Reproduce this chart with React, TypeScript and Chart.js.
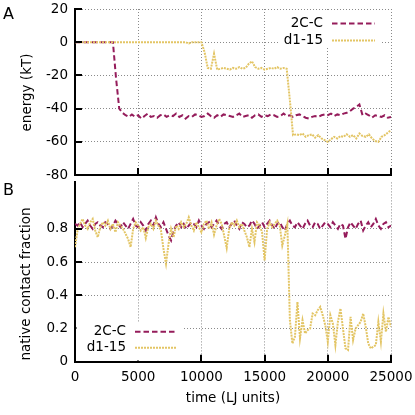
import React, { useEffect, useRef } from "react";
import { Chart, registerables } from "chart.js";

Chart.register(...registerables);

const FONT_FAMILY = "DejaVu Sans";
const MAROON = "#951c5b";
const GOLD = "#e3c565";

const SERIES_NAMES = ["2C-C", "d1-15"];
const X_TITLE = "time (LJ units)";
const Y_TITLE_A = "energy (kT)";
const Y_TITLE_B = "native contact fraction";

const TIME_STEP_A = 250;
const TIME_STEP_B = 200;
const TIME_MAX = 25000;
const TIME_TICK_STEP = 5000;
const ENERGY_MIN = -80;
const ENERGY_MAX = 20;
const ENERGY_TICK_STEP = 20;
const FRACTION_MIN = 0;
const FRACTION_MAX = 1.08;
const FRACTION_TICK_STEP = 0.2;

// Panel A: energy (kT), sampled every 250 LJ time units (0..25000)
const energy2CC = [
  0, 0, 0, 0, 0, 0, 0, 0, 0, 0, 0, 0, 0,
  -22, -40, -42.5, -44, -45, -43.5, -45, -44, -46, -44.5,
  -43, -45, -44.5, -45.5, -44, -43.5, -45, -44, -44.5, -43,
  -45, -44, -46, -44.5, -45, -43.5, -44, -45, -44.5, -43,
  -44.5, -45.5, -44, -45, -43.5, -44, -44.5, -45, -44, -43,
  -45, -44.5, -44, -45.5, -44, -43.5, -45, -44, -44.5, -43.5,
  -44, -45, -44.5, -43, -44.5, -44, -45, -44, -43.5, -44.5,
  -45.5, -46, -45, -44.5, -45, -44, -43.5, -44, -43, -44.5,
  -43.5, -44, -43, -42.5, -41.5, -40, -39, -37.5, -44, -43,
  -44, -45.5, -44, -44.5, -45, -44, -45.5, -45,
];

const energyD115 = [
  0, 0, 0, 0, 0, 0, 0, 0, 0, 0, 0, 0, 0, 0, 0, 0, 0, 0,
  0, 0, 0, 0, 0, 0, 0, 0, 0, 0, 0, 0, 0, 0, 0, 0, 0, 0,
  -0.8, 0, 0, 0, 0,
  -6, -15.5, -16, -7, -16.5, -16,
  -15.5, -16, -16.5, -15.5, -16, -15, -16, -15.5,
  -13, -11.5, -15,
  -16, -15.5, -16.5, -16, -15.5, -16, -15, -16, -15.5, -16,
  -35, -56,
  -55.5, -56, -55, -57, -56, -55.5, -57.5, -56, -58, -59,
  -60, -58.5, -57, -58, -56.5, -57, -55.5, -57, -56, -58,
  -55, -56.5, -57, -55.5, -58, -59.5, -60, -57, -56, -54.5, -53,
];

// Panel B: native contact fraction, sampled every 200 LJ time units (0..25000)
const fraction2CC = [
  0.83, 0.82, 0.84, 0.81, 0.83, 0.85, 0.82, 0.80, 0.83, 0.84,
  0.82, 0.81, 0.84, 0.83, 0.80, 0.82, 0.85, 0.83, 0.81, 0.84,
  0.82, 0.80, 0.83, 0.86, 0.82, 0.81, 0.84, 0.82, 0.79, 0.83,
  0.85, 0.82, 0.87, 0.83, 0.81, 0.84, 0.80, 0.76, 0.73, 0.79,
  0.82, 0.84, 0.81, 0.83, 0.80, 0.82, 0.84, 0.83, 0.81, 0.85,
  0.82, 0.80, 0.83, 0.84, 0.81, 0.83, 0.85, 0.82, 0.80, 0.83,
  0.84, 0.81, 0.83, 0.85, 0.82, 0.80, 0.84, 0.83, 0.81, 0.82,
  0.85, 0.83, 0.80, 0.82, 0.84, 0.81, 0.83, 0.85, 0.82, 0.80,
  0.83, 0.84, 0.81, 0.79, 0.83, 0.85, 0.82, 0.81, 0.84, 0.82,
  0.80, 0.83, 0.85, 0.82, 0.81, 0.84, 0.83, 0.80, 0.82, 0.84,
  0.83, 0.81, 0.84, 0.82, 0.80, 0.83, 0.82, 0.74, 0.81, 0.84,
  0.82, 0.80, 0.83, 0.85, 0.79, 0.82, 0.84, 0.81, 0.83, 0.86,
  0.82, 0.80, 0.83, 0.84, 0.81, 0.82,
];

const fractionD115 = [
  0.69, 0.79, 0.83, 0.86, 0.82, 0.80, 0.84, 0.86, 0.79, 0.75,
  0.81, 0.84, 0.82, 0.85, 0.80, 0.83, 0.78, 0.84, 0.82, 0.80,
  0.77, 0.74, 0.69, 0.80, 0.84, 0.82, 0.79, 0.81, 0.745, 0.81,
  0.83, 0.80, 0.85, 0.82, 0.79, 0.68, 0.59, 0.71, 0.80, 0.75,
  0.82, 0.80, 0.84, 0.81, 0.83, 0.87, 0.82, 0.79, 0.84, 0.81,
  0.78, 0.83, 0.85, 0.80, 0.84, 0.765, 0.82, 0.86, 0.83, 0.76,
  0.685, 0.80, 0.84, 0.82, 0.85, 0.81, 0.83, 0.79, 0.75, 0.69,
  0.80, 0.72, 0.84, 0.82, 0.78, 0.61, 0.80, 0.84, 0.81, 0.83,
  0.85, 0.82, 0.70, 0.76, 0.83, 0.25, 0.11, 0.15, 0.36, 0.14,
  0.25, 0.17, 0.19, 0.20, 0.29, 0.28, 0.31, 0.33, 0.28, 0.22,
  0.12, 0.28, 0.23, 0.10, 0.24, 0.32, 0.20, 0.08, 0.07, 0.27,
  0.13, 0.20, 0.22, 0.24, 0.29, 0.21, 0.11, 0.08, 0.09, 0.10,
  0.24, 0.12, 0.29, 0.18, 0.27, 0.21,
];

const toPoints = (values: number[], step: number) =>
  values.map((v, i) => ({ x: i * step, y: v }));

type Decor = {
  letter: string;
  letterY: number;
  yTitle: string;
  yTitleX: number;
  yTitleY: number;
  xTitle?: string;
  xTitleY?: number;
  legendBox: [number, number, number, number];
  legendTextRight: number;
  legendRows: number[];
  legendSample: [number, number];
};

function decorPlugin(d: Decor) {
  return {
    id: "decor",
    afterDraw(chart: any) {
      const { ctx, chartArea, scales } = chart;
      ctx.save();
      ctx.setLineDash([]);
      ctx.strokeStyle = "#000";
      ctx.lineWidth = 2;
      // inward tick marks
      ctx.beginPath();
      for (const t of scales.x.ticks) {
        const px = Math.round(scales.x.getPixelForValue(t.value));
        ctx.moveTo(px, chartArea.bottom);
        ctx.lineTo(px, chartArea.bottom - 7);
      }
      for (const t of scales.y.ticks) {
        const py = Math.round(scales.y.getPixelForValue(t.value));
        ctx.moveTo(chartArea.left, py);
        ctx.lineTo(chartArea.left + 7, py);
      }
      ctx.stroke();

      // legend (opaque key)
      const [bx, by, bw, bh] = d.legendBox;
      ctx.fillStyle = "#fff";
      ctx.fillRect(bx, by, bw, bh);
      ctx.font = `13.5px "${FONT_FAMILY}"`;
      ctx.textBaseline = "middle";
      chart.data.datasets.forEach((ds: any, i: number) => {
        const y = d.legendRows[i];
        ctx.fillStyle = "#000";
        ctx.textAlign = "right";
        ctx.fillText(ds.label, d.legendTextRight, y);
        ctx.strokeStyle = ds.borderColor;
        ctx.lineWidth = ds.borderWidth;
        ctx.setLineDash(ds.borderDash || []);
        ctx.beginPath();
        ctx.moveTo(d.legendSample[0], y);
        ctx.lineTo(d.legendSample[1], y);
        ctx.stroke();
      });
      ctx.setLineDash([]);

      // panel letter
      ctx.fillStyle = "#000";
      ctx.textAlign = "left";
      ctx.font = `16px "${FONT_FAMILY}"`;
      ctx.fillText(d.letter, 3, d.letterY);

      // axis titles
      ctx.font = `13.5px "${FONT_FAMILY}"`;
      ctx.textAlign = "center";
      ctx.save();
      ctx.translate(d.yTitleX, d.yTitleY);
      ctx.rotate(-Math.PI / 2);
      ctx.fillText(d.yTitle, 0, 0);
      ctx.restore();
      if (d.xTitle && d.xTitleY !== undefined) {
        ctx.fillText(d.xTitle, (chartArea.left + chartArea.right) / 2, d.xTitleY);
      }
      ctx.restore();
    },
  };
}

const gridCommon = {
  color: "#8a8a8a",
  lineWidth: 1,
  drawTicks: false,
};
const borderCommon = {
  display: true,
  color: "#000",
  width: 2,
  dash: [1, 2],
};

function zeroPadding(scale: any) {
  scale.paddingTop = 0;
  scale.paddingBottom = 0;
  scale.paddingLeft = 0;
  scale.paddingRight = 0;
}

function makeDatasets(a: number[], b: number[], step: number) {
  return [
    {
      label: SERIES_NAMES[0],
      data: toPoints(a, step),
      borderColor: MAROON,
      borderWidth: 2,
      borderDash: [5.5, 3],
      pointRadius: 0,
      fill: false,
      tension: 0,
      order: 1,
    },
    {
      label: SERIES_NAMES[1],
      data: toPoints(b, step),
      borderColor: GOLD,
      borderWidth: 2,
      borderDash: [2, 1],
      pointRadius: 0,
      fill: false,
      tension: 0,
      order: 0,
    },
  ];
}

function PanelA() {
  const ref = useRef<HTMLCanvasElement>(null);
  useEffect(() => {
    const chart = new Chart(ref.current as HTMLCanvasElement, {
      type: "line",
      data: { datasets: makeDatasets(energy2CC, energyD115, TIME_STEP_A) as any },
      options: {
        animation: false,
        responsive: false,
        devicePixelRatio: 1,
        layout: { padding: { top: 9, right: 24, left: 0, bottom: 0 } },
        plugins: { legend: { display: false }, tooltip: { enabled: false } },
        scales: {
          x: {
            type: "linear",
            min: 0,
            max: TIME_MAX,
            ticks: { display: false, stepSize: TIME_TICK_STEP },
            grid: gridCommon,
            border: borderCommon,
            afterFit: (s: any) => {
              s.height = 5;
              zeroPadding(s);
            },
          },
          y: {
            min: ENERGY_MIN,
            max: ENERGY_MAX,
            ticks: {
              stepSize: ENERGY_TICK_STEP,
              padding: 7,
              color: "#000",
              font: { family: FONT_FAMILY, size: 13.5 },
            },
            grid: gridCommon,
            border: borderCommon,
            afterFit: (s: any) => {
              s.width = 75;
              zeroPadding(s);
            },
          },
        },
      } as any,
      plugins: [
        decorPlugin({
          letter: "A",
          letterY: 15,
          yTitle: Y_TITLE_A,
          yTitleX: 27,
          yTitleY: 92.5,
          legendBox: [280, 11, 100, 36],
          legendTextRight: 323,
          legendRows: [23.5, 40.5],
          legendSample: [332, 375],
        }),
      ],
    });
    return () => chart.destroy();
  }, []);
  return (
    <canvas
      ref={ref}
      width={415}
      height={180}
      style={{ position: "absolute", left: 0, top: 0, width: 415, height: 180 }}
    />
  );
}

function PanelB() {
  const ref = useRef<HTMLCanvasElement>(null);
  useEffect(() => {
    const chart = new Chart(ref.current as HTMLCanvasElement, {
      type: "line",
      data: { datasets: makeDatasets(fraction2CC, fractionD115, TIME_STEP_B) as any },
      options: {
        animation: false,
        responsive: false,
        devicePixelRatio: 1,
        layout: { padding: { top: 2.4, right: 24, left: 0, bottom: 0 } },
        plugins: { legend: { display: false }, tooltip: { enabled: false } },
        scales: {
          x: {
            type: "linear",
            min: 0,
            max: TIME_MAX,
            ticks: {
              stepSize: TIME_TICK_STEP,
              padding: 8,
              maxRotation: 0,
              color: "#000",
              font: { family: FONT_FAMILY, size: 13.5 },
              callback: (v: any) => String(v),
            },
            grid: gridCommon,
            border: borderCommon,
            afterFit: (s: any) => {
              s.height = 53.3;
              zeroPadding(s);
            },
          },
          y: {
            min: FRACTION_MIN,
            max: FRACTION_MAX,
            ticks: {
              stepSize: FRACTION_TICK_STEP,
              padding: 7,
              color: "#000",
              font: { family: FONT_FAMILY, size: 13.5 },
              callback: (v: any) => String(Math.round(Number(v) * 10) / 10),
            },
            afterBuildTicks: (s: any) => {
              s.ticks = s.ticks.filter((t: any) => t.value <= 1.0001);
            },
            grid: gridCommon,
            border: borderCommon,
            afterFit: (s: any) => {
              s.width = 75;
              zeroPadding(s);
            },
          },
        },
      } as any,
      plugins: [
        decorPlugin({
          letter: "B",
          letterY: 10.5,
          yTitle: Y_TITLE_B,
          yTitleX: 26,
          yTitleY: 104,
          xTitle: X_TITLE,
          xTitleY: 218,
          legendBox: [76.5, 142, 106.5, 38.5],
          legendTextRight: 126,
          legendRows: [151.7, 167.7],
          legendSample: [135, 177],
        }),
      ],
    });
    return () => chart.destroy();
  }, []);
  return (
    <canvas
      ref={ref}
      width={415}
      height={235}
      style={{ position: "absolute", left: 0, top: 180, width: 415, height: 235 }}
    />
  );
}

export default function App() {
  return (
    <div
      style={{
        position: "absolute",
        left: 0,
        top: 0,
        width: 415,
        height: 415,
        background: "#fff",
        overflow: "hidden",
      }}
    >
      <PanelA />
      <PanelB />
    </div>
  );
}
